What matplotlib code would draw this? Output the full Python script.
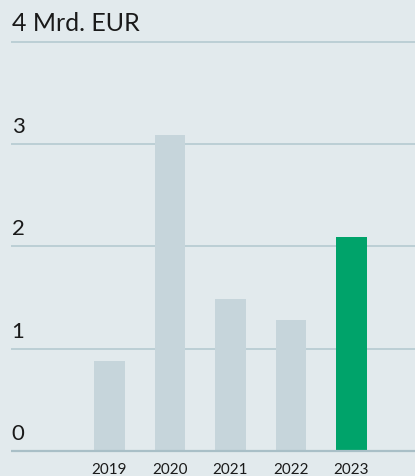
import numpy as np
import matplotlib.pyplot as plt

years = ["2019", "2020", "2021", "2022", "2023"]
values = [0.88, 3.09, 1.49, 1.28, 2.09]
bar_colors = ["#c6d5db", "#c6d5db", "#c6d5db", "#c6d5db", "#00a36a"]
y_ticks = [0, 1, 2, 3, 4]
y_labels = ["0", "1", "2", "3", "4 Mrd. EUR"]

plt.rcParams['font.family'] = ['Lato', 'DejaVu Sans']

bg = "#e2eaed"
fig = plt.figure(figsize=(4.15, 4.76), dpi=100, facecolor=bg)
ax = fig.add_axes([0, 0, 1, 1])
ax.set_facecolor(bg)

# pixel mapping: zero line at y=451, 102.25 px per unit; bars 60.5 px apart
ax.set_ylim(-25 / 102.25, 451 / 102.25)
ax.set_xlim(-109.5 / 60.5, (415 - 109.5) / 60.5)
x = np.arange(len(years))

grid_start = -109.5 / 60.5 + 11 / 60.5
for t in y_ticks[1:]:
    ax.hlines(t, grid_start, 10, color="#b5cad1", lw=1.2, zorder=1)
ax.hlines(0, grid_start, 10, color="#a9bfc7", lw=1.6, zorder=3)

ax.bar(x, values, width=0.51, color=bar_colors, zorder=2)

for t, lab in zip(y_ticks, y_labels):
    ax.text(grid_start + 0.01, t + 7 / 102.25, lab, fontsize=18 if t == 4 else 16,
            color="#1a1a1a", ha="left", va="bottom")

for xi, yr in zip(x, years):
    ax.text(xi, -12 / 102.25, yr, fontsize=11, color="#1a1a1a", ha="center", va="top")

ax.axis("off")
fig.savefig("out.png", dpi=100, facecolor=bg)
